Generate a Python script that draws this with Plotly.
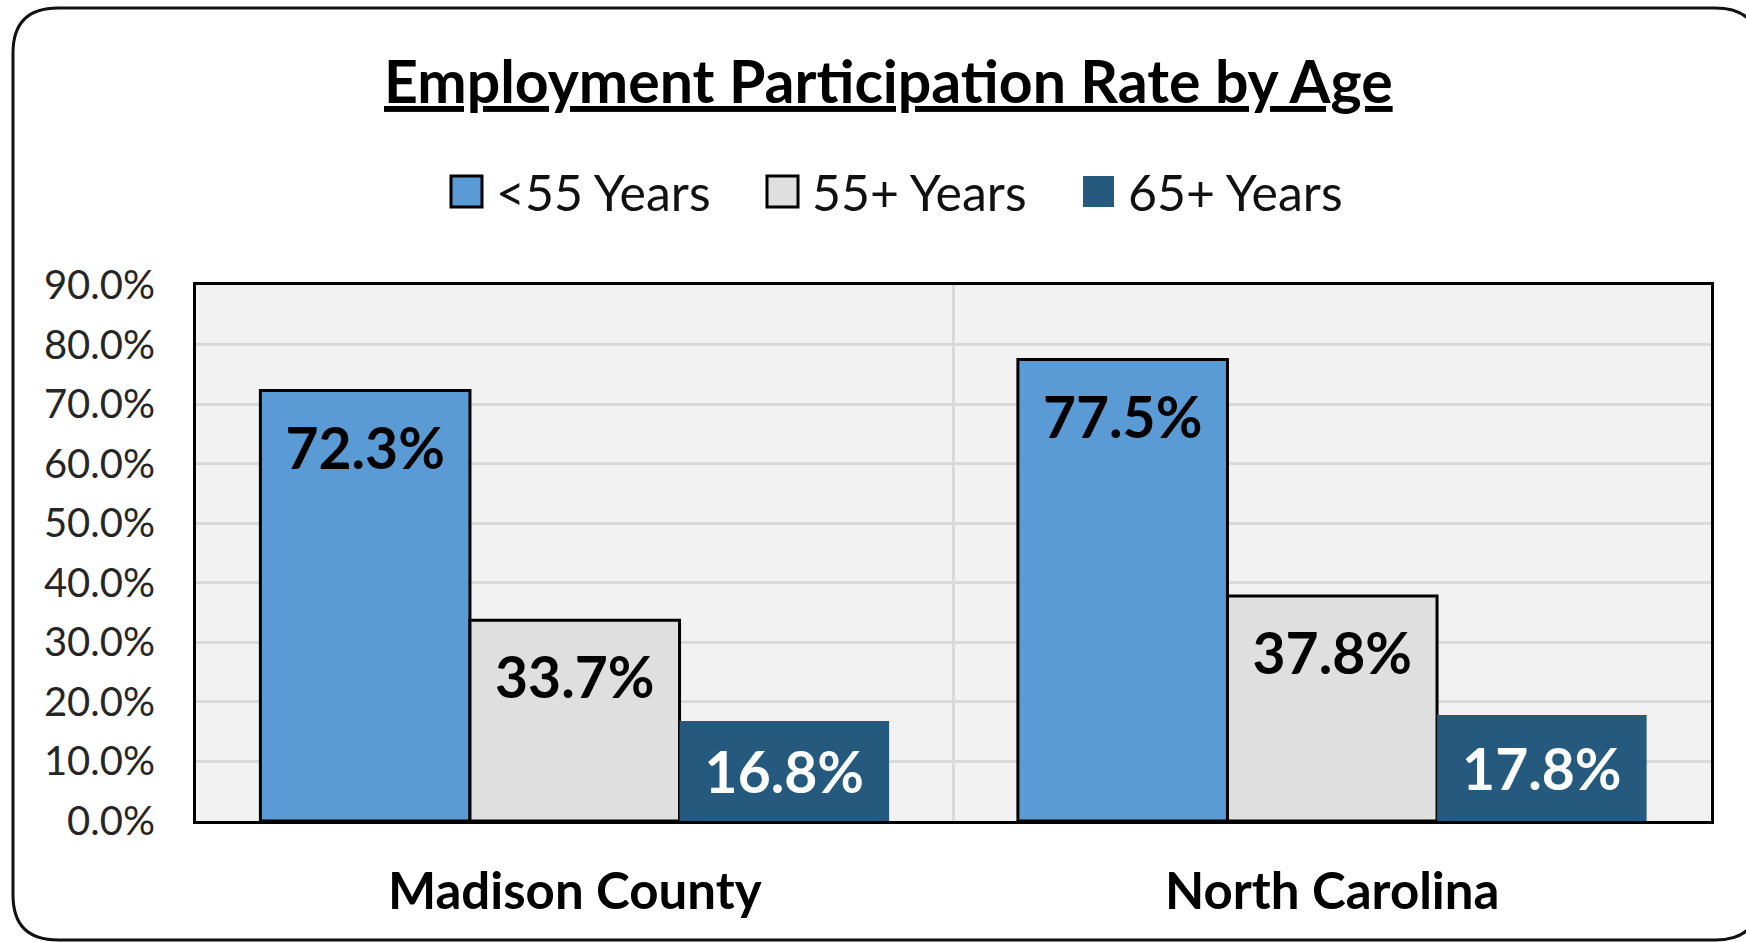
import plotly.graph_objects as go

# ---- data ----
categories = ["Madison County", "North Carolina"]
series_names = ["<55 Years", "55+ Years", "65+ Years"]
under_55 = [0.723, 0.775]
over_55 = [0.337, 0.378]
over_65 = [0.168, 0.178]
y_ticks = [0.0, 0.1, 0.2, 0.3, 0.4, 0.5, 0.6, 0.7, 0.8, 0.9]

series_values = [under_55, over_55, over_65]
fill_colors = ["#5B9BD5", "#DFDFDF", "#255A7E"]
outline_widths = [3, 3, 0]
label_colors = ["#000000", "#000000", "#FFFFFF"]
groups = ["a", "b", "c"]

W, H = 1746, 942
# plot-area edges in pixels
L, R, T, B = 196, 1711, 285, 821
FONT = "Lato, 'Open Sans', sans-serif"
LABEL_SIZE = 57


def fx(px):
    return (px - L) / (R - L)


def fy(py):
    return (B - py) / (B - T)


def fmt(v):
    return f"{v * 100:.1f}%"


fig = go.Figure()

for i, (name, vals, col, lw, grp) in enumerate(
        zip(series_names, series_values, fill_colors, outline_widths, groups)):
    centred = i == 2  # the 65+ labels sit in the middle of their bars
    fig.add_trace(go.Bar(
        x=categories, y=vals, name=name, offsetgroup=grp,
        marker=dict(color=col, line=dict(color="#000000", width=lw)),
        text=[fmt(v) for v in vals] if centred else None,
        textposition="inside" if centred else "none",
        insidetextanchor="middle", textangle=0,
        textfont=dict(family=FONT, size=LABEL_SIZE, weight="bold",
                      color=label_colors[i]),
        hoverinfo="skip", showlegend=False,
    ))

# value labels for the first two series, hung just below each bar top
for vals, tcol, grp in zip(series_values[:2], label_colors[:2], groups[:2]):
    fig.add_trace(go.Scatter(
        x=categories, y=vals, offsetgroup=grp, mode="markers+text",
        marker=dict(size=55, color="rgba(0,0,0,0)"),
        text=[fmt(v) for v in vals],
        textposition="bottom center",
        textfont=dict(family=FONT, size=LABEL_SIZE, weight="bold", color=tcol),
        hoverinfo="skip", showlegend=False, cliponaxis=False,
    ))

shapes = []
annotations = []

# rounded outer frame
x0, y0, x1, y1, rr = 13, 8, 1760, 940, 45
path = (
    f"M{fx(x0 + rr)},{fy(y0)} L{fx(x1 - rr)},{fy(y0)} "
    f"Q{fx(x1)},{fy(y0)} {fx(x1)},{fy(y0 + rr)} "
    f"L{fx(x1)},{fy(y1 - rr)} Q{fx(x1)},{fy(y1)} {fx(x1 - rr)},{fy(y1)} "
    f"L{fx(x0 + rr)},{fy(y1)} Q{fx(x0)},{fy(y1)} {fx(x0)},{fy(y1 - rr)} "
    f"L{fx(x0)},{fy(y0 + rr)} Q{fx(x0)},{fy(y0)} {fx(x0 + rr)},{fy(y0)} Z"
)
shapes.append(dict(type="path", xref="paper", yref="paper", path=path,
                   line=dict(color="#111111", width=3), layer="above"))

# legend row
legend_left = [451, 767, 1083]
box = 31
legend_cy = 191.5
for name, col, lw, lx in zip(series_names, fill_colors, outline_widths, legend_left):
    shapes.append(dict(
        type="rect", xref="paper", yref="paper",
        x0=fx(lx), x1=fx(lx + box),
        y0=fy(legend_cy + box / 2), y1=fy(legend_cy - box / 2),
        fillcolor=col,
        line=dict(color="#000000", width=lw) if lw else dict(width=0),
    ))
    annotations.append(dict(
        xref="paper", yref="paper", x=fx(lx + box + 12), y=fy(legend_cy),
        xanchor="left", yanchor="middle", showarrow=False, text=name,
        font=dict(family=FONT, size=50, color="#111111"),
    ))

# chart title
annotations.append(dict(
    xref="paper", yref="paper", x=fx(888), y=fy(80),
    xanchor="center", yanchor="middle", showarrow=False,
    text="<u><b>Employment Participation Rate by Age</b></u>",
    font=dict(family=FONT, size=59, color="#000000"),
))

fig.update_layout(
    width=W, height=H, autosize=False,
    margin=dict(l=L, r=W - R, t=T, b=H - B, pad=0),
    paper_bgcolor="#FFFFFF", plot_bgcolor="#F2F2F2",
    barmode="group", bargap=0.17, bargroupgap=0,
    scattermode="group", scattergap=0.17,
    showlegend=False, uniformtext=dict(mode=False),
    shapes=shapes, annotations=annotations,
    font=dict(family=FONT),
)

fig.update_yaxes(
    range=[0, 0.9], tickvals=y_ticks, tickformat=".1%",
    showgrid=True, gridcolor="#D9D9D9", gridwidth=3, zeroline=False,
    showline=True, mirror=True, linecolor="#000000", linewidth=3,
    ticks="", ticklabelstandoff=30,
    tickfont=dict(family=FONT, size=40, color="#262626"),
)
fig.update_xaxes(
    type="category", tickson="boundaries",
    showgrid=True, gridcolor="#D9D9D9", gridwidth=3,
    showline=True, mirror=True, linecolor="#000000", linewidth=3,
    ticks="", ticklabelstandoff=24,
    tickfont=dict(family=FONT, size=51, weight="bold", color="#000000"),
)

fig.write_html("out.html")
